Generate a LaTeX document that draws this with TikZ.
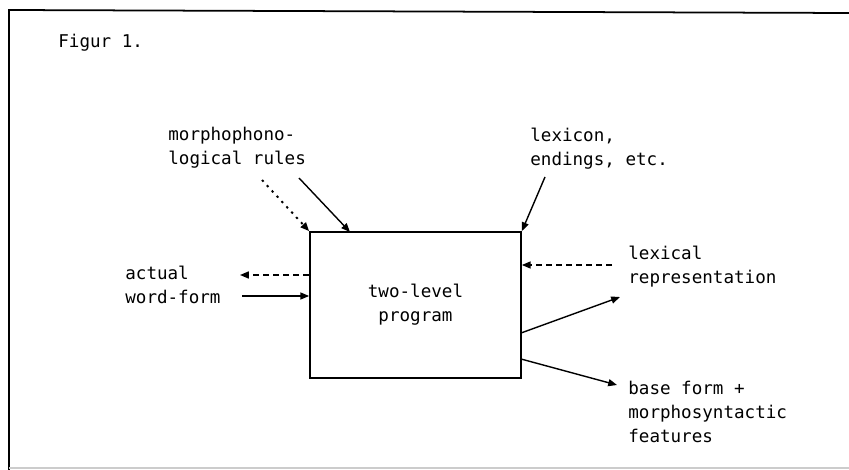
\documentclass[tikz,border=0pt]{standalone}
\usepackage{fontspec}
\setmonofont{DejaVu Sans Mono}
\usepackage{tikz}
\usetikzlibrary{arrows.meta,positioning,calc}

\begin{document}
\begin{tikzpicture}[x=0.02cm,y=-0.02cm,
  lbl/.style={font=\ttfamily\fontsize{10}{13.6}\selectfont,align=left,
              anchor=west,inner sep=0pt},
  arr/.style={-{Triangle[length=5pt,width=4pt]},line width=0.8pt},
  dsh/.style={dash pattern=on 3.4pt off 2.3pt},
  dts/.style={line width=1.1pt,dash pattern=on 1.3pt off 2.8pt},
]
\useasboundingbox (0,0) rectangle (849,470);
% frame
\draw[line width=1pt] (849,13) -- (9,10) -- (9,470);
\draw[black!20,line width=0.6pt] (9,468) -- (849,468);
\node[lbl] (title) at (58,43) {Figur 1.};

% program box
\node[draw,line width=1pt,minimum width=4.22cm,minimum height=2.92cm,
      align=center,font=\ttfamily\fontsize{10}{13.6}\selectfont] (prog) at (415.5,305)
  {two-level\\program};

% labels
\node[lbl] (rules) at (168,147.5) {morphophono-\\logical rules};
\node[lbl] (lexicon) at (530,148.5) {lexicon,\\endings, etc.};
\node[lbl] (actual) at (125,285) {actual\\word-form};
\node[lbl] (lexrep) at (628,266.5) {lexical\\representation};
\node[lbl] (base) at (628,412) {base form +\\morphosyntactic\\features};

% free ends
\coordinate (rd) at (262,180);
\coordinate (rs) at (299,178);
\coordinate (rt) at (350,232);
\coordinate (lx) at (545,177);
\coordinate (ld) at (612,265);
\coordinate (ad) at (240,275);
\coordinate (as) at (242,296);
\coordinate (o1) at (521,333);
\coordinate (t1) at (620,297);
\coordinate (o2) at (521,359);
\coordinate (t2) at (617,385);

% connectors
\draw[arr,dts] (rd) -- (prog.north west);
\draw[arr] (rs) -- (rt);
\draw[arr] (lx) -- (prog.north east);
\draw[arr,dsh] (ld) -- (ld -| prog.east);
\draw[arr,dsh] (ad -| prog.west) -- (ad);
\draw[arr] (as) -- (as -| prog.west);
\draw[arr] (o1) -- (t1);
\draw[arr] (o2) -- (t2);
\end{tikzpicture}
\end{document}
